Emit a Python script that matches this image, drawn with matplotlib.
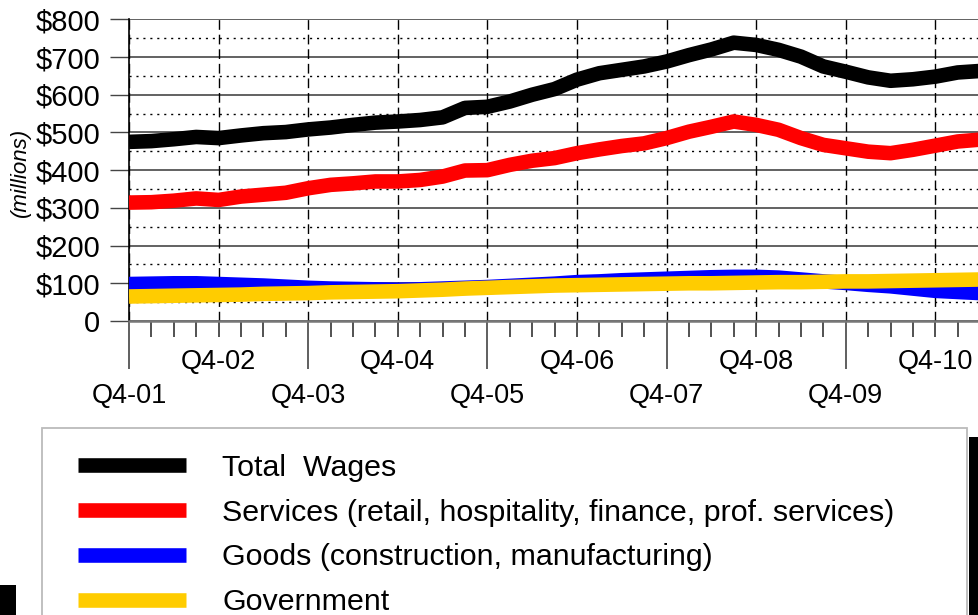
import matplotlib.pyplot as plt
import numpy as np
from matplotlib.patches import Rectangle

plt.rcParams['font.family'] = ['Liberation Sans', 'DejaVu Sans']

# quarterly wages, $ millions, Q4-01 .. Q2-11
total = [475, 477, 482, 488, 485, 492, 498, 501, 508, 513, 520, 526, 529, 533, 540, 565,
         568, 582, 600, 615, 640, 657, 666, 675, 688, 705, 720, 738, 732, 719, 701, 675,
         661, 646, 637, 641, 648, 659, 663]
services = [314, 315, 319, 325, 321, 330, 335, 340, 352, 361, 365, 370, 370, 374, 383, 399,
            400, 414, 425, 432, 445, 455, 464, 471, 485, 502, 515, 529, 520, 507, 485, 467,
            458, 449, 445, 454, 465, 476, 481]
goods = [98, 99, 100, 100, 98, 96, 94, 91, 88, 86, 85, 84, 83, 84, 86, 88,
         90, 93, 96, 99, 103, 105, 108, 110, 112, 114, 116, 117, 117, 115, 110, 105,
         101, 96, 92, 86, 80, 77, 74]
government = [65, 66, 67, 68, 69, 70, 72, 73, 74, 76, 77, 78, 79, 81, 83, 86,
              88, 90, 92, 94, 95, 96, 97, 98, 99, 100, 100, 101, 102, 103, 103, 104,
              105, 105, 106, 107, 108, 109, 110]

series_names = ['Total  Wages',
                'Services (retail, hospitality, finance, prof. services)',
                'Goods (construction, manufacturing)',
                'Government']
series_colors = ['#000000', '#ff0000', '#0000ff', '#ffcc00']

year_labels = ['Q4-01', 'Q4-02', 'Q4-03', 'Q4-04', 'Q4-05',
               'Q4-06', 'Q4-07', 'Q4-08', 'Q4-09', 'Q4-10']
y_labels = ['0', '$100', '$200', '$300', '$400', '$500', '$600', '$700', '$800']

W, H = 979, 615
fig = plt.figure(figsize=(W / 100, H / 100), dpi=100)
ax = fig.add_axes([129 / W, 1 - 321 / H, 850 / W, 301.7 / H])

x = np.arange(len(total))
year_pos = np.arange(len(year_labels)) * 4

for vals, name, col in zip([total, services, goods, government], series_names, series_colors):
    ax.plot(x, vals, color=col, lw=10.5, label=name, solid_joinstyle='round',
            solid_capstyle='butt', zorder=3)

ax.set_xlim(0, 37.95)
ax.set_ylim(0, 800)

# y axis
ax.set_yticks(np.arange(0, 801, 100), labels=y_labels)
ax.set_yticks(np.arange(50, 800, 100), minor=True)
ax.tick_params(axis='y', which='major', length=13.7, width=1, color='#444',
               pad=7, labelsize=21)
ax.tick_params(axis='y', which='minor', length=0)
ax.grid(axis='y', which='major', color='#555', lw=1.3, ls='-', zorder=0.5)
ax.grid(axis='y', which='minor', color='black', lw=1, ls=(0, (1.5, 3.5)), zorder=0.5)
ax.set_axisbelow(True)

# x axis: odd years on lower row with long ticks, even years on upper row
ax.set_xticks(year_pos[::2], labels=year_labels[::2])
minor_pos = [q for q in x[:-1] if q not in year_pos[::2]]
minor_lab = [year_labels[q // 4] if q in year_pos[1::2] else '' for q in minor_pos]
ax.set_xticks(minor_pos, labels=minor_lab, minor=True)
ax.tick_params(axis='x', which='major', length=34.5, width=1.2, color='#444',
               pad=10, labelsize=19.5)
ax.tick_params(axis='x', which='minor', length=11.5, width=1.2, color='#333',
               pad=9, labelsize=19.5)
ax.vlines(year_pos, 0, 800, colors='black', lw=1, linestyles=(0, (7, 3.5)), zorder=0.6)

for s in ['top', 'right']:
    ax.spines[s].set_visible(False)
ax.spines['left'].set_color('black')
ax.spines['left'].set_linewidth(1.2)
ax.spines['bottom'].set_color('#777')
ax.spines['bottom'].set_linewidth(1.8)

fig.text(20 / W, 1 - 172 / H, '(millions)', rotation=90, style='italic',
         fontsize=16, ha='center', va='center')

# legend box (runs off the bottom of the picture)
fig.add_artist(Rectangle((42 / W, -0.1), 925 / W, 1 - 428 / H + 0.1,
                         transform=fig.transFigure, fill=False,
                         edgecolor='#bbbbbb', lw=1.3))
fig.legend(loc='upper left', bbox_to_anchor=(78 / W, 1 - 454 / H),
           bbox_transform=fig.transFigure, frameon=False, fontsize=21.9,
           handlelength=3.56, handletextpad=1.19, borderpad=0, borderaxespad=0,
           labelspacing=0.55)

# black edges of the cropped page
fig.add_artist(Rectangle((969 / W, 0), 10 / W, 1 - 437 / H,
                         transform=fig.transFigure, color='black', lw=0))
fig.add_artist(Rectangle((0, 0), 16 / W, 30 / H,
                         transform=fig.transFigure, color='black', lw=0))

fig.savefig('out.png', dpi=100)
